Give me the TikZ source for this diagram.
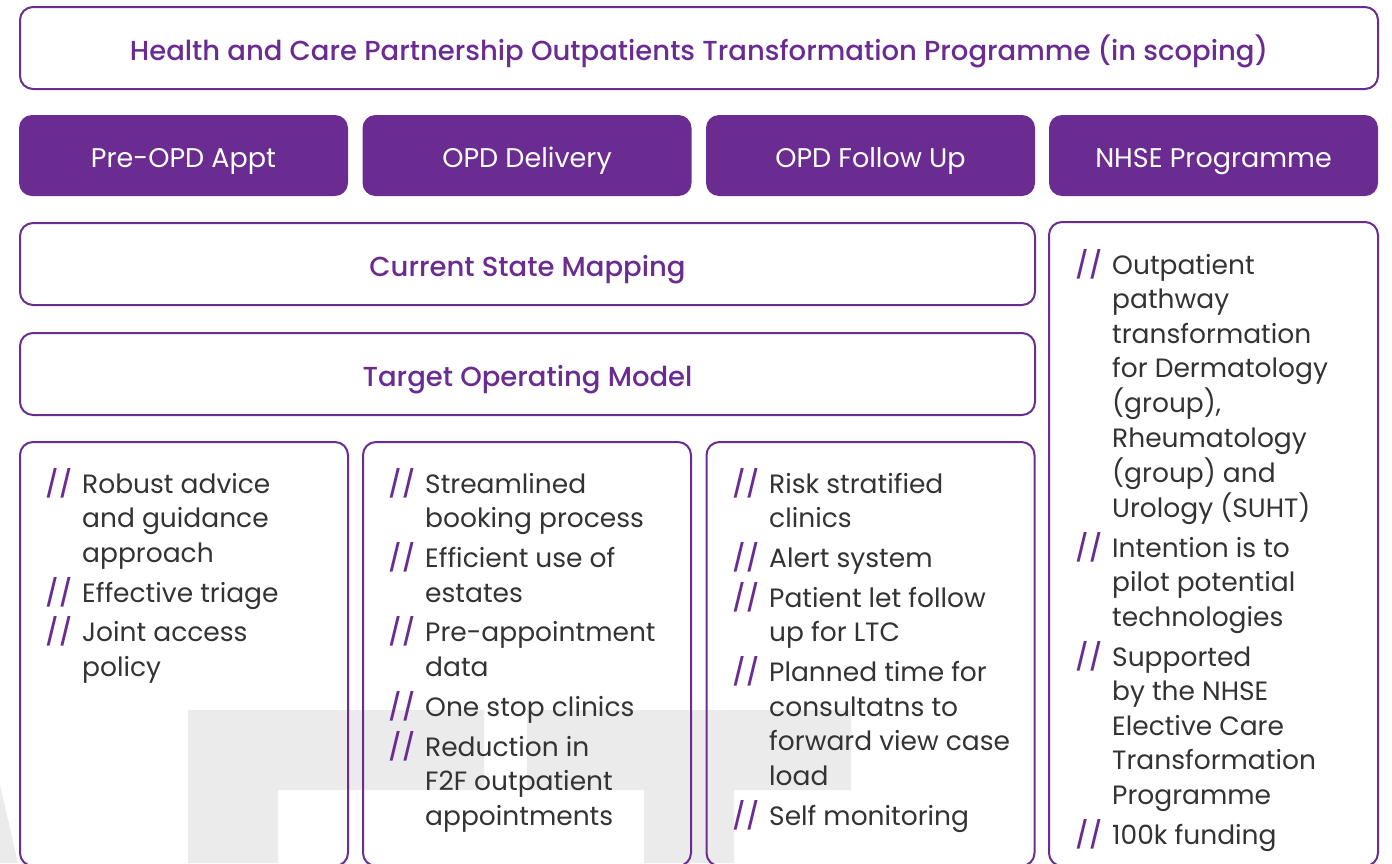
\documentclass[tikz,border=0pt]{standalone}
\usepackage{fontspec}
\setmainfont{Poppins}
\newfontfamily\midfont{Poppins Medium}
\definecolor{nhspurple}{HTML}{6B2C91}
\definecolor{bodygrey}{HTML}{333333}
\definecolor{markgrey}{HTML}{EBEBEB}
\newcommand{\bul}{\makebox[37pt][l]{\color{nhspurple}\midfont//}}
\newcommand{\itemgap}{\\[4.5pt]}
\tikzset{
  titlebox/.style={draw=nhspurple, line width=2pt, rounded corners=13pt, text=nhspurple, text height=28pt, text depth=4pt, font=\midfont\fontsize{27.5}{30}\selectfont},
  phasebox/.style={fill=nhspurple, rounded corners=13pt, text=white, minimum width=329pt, minimum height=81pt, text height=27pt, text depth=4pt, font=\fontsize{27}{30}\selectfont},
  rowbox/.style={titlebox, minimum width=1015pt, minimum height=82pt},
  card/.style={draw=nhspurple, line width=2pt, rounded corners=13pt, minimum width=328pt},
  list/.style={anchor=north west, inner sep=0pt, text=bodygrey, font=\fontsize{26.5}{34.5}\selectfont}
}
\begin{document}
\begin{tikzpicture}[x=1pt, y=-1pt]
  \useasboundingbox (0,0) rectangle (1392,863);
  % watermark letters behind the cards
  \fill[markgrey] (0,785) -- (18,863) -- (0,863) -- cycle;
  \fill[markgrey] (188,863) -- (188,710) -- (484,710) -- (484,790) -- (278,790) -- (278,863) -- cycle;
  \fill[markgrey] (527,710) -- (851,710) -- (851,790) -- (734,790) -- (734,863) -- (644,863) -- (644,790) -- (527,790) -- cycle;

  % header
  \node[titlebox, minimum width=1358pt, minimum height=82pt] (title) at (699,48) {Health and Care Partnership Outpatients Transformation Programme (in scoping)};
  \node[phasebox] (preopd) at (183.5,155.5) {Pre-OPD Appt};
  \node[phasebox] (delivery) at (527,155.5) {OPD Delivery};
  \node[phasebox] (followup) at (870.5,155.5) {OPD Follow Up};
  \node[phasebox] (nhse) at (1213.5,155.5) {NHSE Programme};

  \node[rowbox] (current) at (527.5,264) {Current State Mapping};
  \node[rowbox] (target) at (527.5,374) {Target Operating Model};

  % cards
  \node[card, minimum height=424pt] (cardpre) at (184,654) {};
  \node[card, minimum height=424pt] (carddel) at (527,654) {};
  \node[card, minimum height=424pt] (cardfol) at (870.5,654) {};
  \node[card, minimum width=329pt, minimum height=644pt] (cardnhse) at (1213.5,544) {};

  \node[list] (listpre) at (45,468) {\begin{tabular}{@{}l@{}l@{}}
    \bul & Robust advice\\ & and guidance\\ & approach\itemgap
    \bul & Effective triage\itemgap
    \bul & Joint access\\ & policy
  \end{tabular}};
  \node[list] (listdel) at (388,468) {\begin{tabular}{@{}l@{}l@{}}
    \bul & Streamlined\\ & booking process\itemgap
    \bul & Efficient use of\\ & estates\itemgap
    \bul & Pre-appointment\\ & data\itemgap
    \bul & One stop clinics\itemgap
    \bul & Reduction in\\ & F2F outpatient\\ & appointments
  \end{tabular}};
  \node[list] (listfol) at (732,468) {\begin{tabular}{@{}l@{}l@{}}
    \bul & Risk stratified\\ & clinics\itemgap
    \bul & Alert system\itemgap
    \bul & Patient let follow\\ & up for LTC\itemgap
    \bul & Planned time for\\ & consultatns to\\ & forward view case\\ & load\itemgap
    \bul & Self monitoring
  \end{tabular}};
  \node[list] (listnhse) at (1075,249) {\begin{tabular}{@{}l@{}l@{}}
    \bul & Outpatient\\ & pathway\\ & transformation\\ & for Dermatology\\ & (group),\\ & Rheumatology\\ & (group) and\\ & Urology (SUHT)\itemgap
    \bul & Intention is to\\ & pilot potential\\ & technologies\itemgap
    \bul & Supported\\ & by the NHSE\\ & Elective Care\\ & Transformation\\ & Programme\itemgap
    \bul & 100k funding
  \end{tabular}};
\end{tikzpicture}
\end{document}
